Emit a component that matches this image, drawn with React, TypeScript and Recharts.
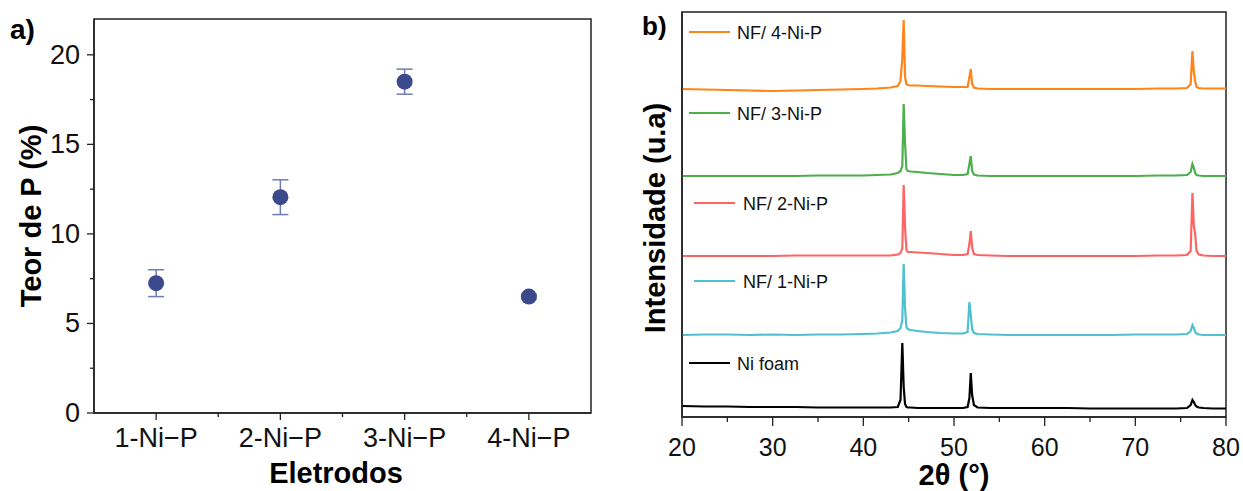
import React from 'react';
import {
  ScatterChart, Scatter, LineChart, Line, XAxis, YAxis, ErrorBar, ReferenceArea,
} from 'recharts';

const FONT = '"Liberation Sans", Arial, Helvetica, sans-serif';

// panel a) - teor de P
const categories = ['1-Ni−P', '2-Ni−P', '3-Ni−P', '4-Ni−P'];
const pContent = [7.25, 12.05, 18.5, 6.5];
const pError = [0.75, 0.97, 0.7, 0.12];
const yTicksA = [0, 2.5, 5, 7.5, 10, 12.5, 15, 17.5, 20];

// panel b) - DRX
const twoTheta = [
  20, 22.5, 25, 27.5, 30, 32.5, 35, 37.5, 40, 41.5,
  43, 43.8, 44.1, 44.3, 44.45, 44.6, 44.75, 44.9, 45.2, 46,
  47, 48.5, 50, 51, 51.5, 51.7, 51.85, 52.0, 52.2, 52.6,
  54, 56, 58, 60, 62.5, 65, 67.5, 70, 72.5, 74.5,
  75.7, 76.1, 76.3, 76.45, 76.6, 76.75, 77.0, 77.5, 78.5, 80,
];
const niFoam = [
  2, 1.5, 1.5, 1, 1, 1, 0.5, 0.5, 0.5, 0.5,
  0.5, 1, 8, 65, 21, 4, 1, 0.5, 0.5, 0,
  0, 0, 0, 0, 1, 10, 35, 13, 3, 0.5,
  0, 0, 0, 0, 0, -0.5, -0.5, -0.5, -0.5, -0.5,
  0, 3, 8, 6, 3, 1.5, 0.5, 0, -0.5, -0.5,
];
const nf1 = [
  0, 0.5, 0.5, 0, 0.5, 0, 0.5, 0.5, 1, 1.5,
  2.5, 4, 7, 15, 71, 27, 8, 6, 5, 4,
  3, 2, 1.5, 1.5, 3, 33, 20, 6, 2, 1,
  0.5, 0, 0, 0, 0, 0, 0, 0.5, 0.5, 0.5,
  1, 4, 10, 7, 3, 1.5, 0.5, 0, 0, 0,
];
const nf2 = [
  0, 0, 0, 0, 0, 0.5, 0.5, 0.5, 0.5, 0.5,
  0.5, 1.5, 3, 8, 71, 29, 6, 4, 4, 3.5,
  3, 2, 1, 1, 2, 12, 25, 8, 2, 1,
  0.5, 0, 0, 0, 0, 0, 0, 0, 0.5, 0.5,
  1, 5, 63, 30, 22, 5, 1.5, 0.5, 0, 0,
];
const nf3 = [
  0, 0, 0, 0, 0, 0, 0.5, 0.5, 0.5, 1,
  1.5, 3, 5, 10, 72, 33, 7, 5, 4.5, 4,
  3, 2, 1, 1, 2, 12, 20, 5, 1.5, 0.5,
  0, 0, 0, 0, 0, 0, 0, 0, 0.5, 0.5,
  1, 4, 12, 8, 3, 1, 0.5, 0, 0, 0,
];
const nf4 = [
  0, -0.5, -1, -1.5, -2, -1.5, -1, -0.5, 0, 0.5,
  1.5, 3, 8, 31, 69, 12, 5, 4, 3.5, 3.5,
  3, 2.5, 2, 2, 2, 12, 20, 5, 1.5, 0.5,
  0, 0, 0, 0, 0, 0, 0, 0, 0.5, 0.5,
  1, 5, 38, 17, 8, 2, 1, 0.5, 0.5, 0.5,
];
const seriesNames = ['Ni foam', 'NF/ 1-Ni-P', 'NF/ 2-Ni-P', 'NF/ 3-Ni-P', 'NF/ 4-Ni-P'];
const seriesColors = ['#000000', '#4FC0CF', '#FF6464', '#4CAF4C', '#FF8419'];
const offsets = [9, 82, 161, 241, 328];
const xTicksB = [20, 25, 30, 35, 40, 45, 50, 55, 60, 65, 70, 75, 80];

const scatterData = categories.map((c, i) => ({ x: i + 1, y: pContent[i], err: pError[i] }));
const xrdSeries = [niFoam, nf1, nf2, nf3, nf4];
const xrdData = twoTheta.map((t, i) => {
  const row: any = { t };
  xrdSeries.forEach((s, k) => { row['s' + k] = s[i] + offsets[k]; });
  return row;
});

const AXIS = '#222';

const XTickA = (props: any) => {
  const { x, y, payload } = props;
  const v = payload.value;
  const major = Number.isInteger(v);
  return (
    <g>
      <line x1={x} x2={x} y1={y} y2={y + (major ? 7 : 4)} stroke={AXIS} strokeWidth={1.3} />
      {major && (
        <text x={x} y={y + 34} textAnchor="middle" fontSize={27} fill="#111" fontFamily={FONT}>
          {categories[v - 1]}
        </text>
      )}
    </g>
  );
};

const YTickA = (props: any) => {
  const { x, y, payload } = props;
  const v = payload.value;
  const major = v % 5 === 0;
  return (
    <g>
      <line x1={x - (major ? 7 : 4)} x2={x} y1={y} y2={y} stroke={AXIS} strokeWidth={1.3} />
      {major && (
        <text x={x - 14} y={y + 9} textAnchor="end" fontSize={27} fill="#111" fontFamily={FONT}>
          {v}
        </text>
      )}
    </g>
  );
};

const XTickB = (props: any) => {
  const { x, y, payload } = props;
  const v = payload.value;
  const major = v % 10 === 0;
  return (
    <g>
      <line x1={x} x2={x} y1={y} y2={y + (major ? 9 : 5)} stroke={AXIS} strokeWidth={1.3} />
      {major && (
        <text x={x} y={y + 39} textAnchor="middle" fontSize={25} fill="#111" fontFamily={FONT}>
          {v}
        </text>
      )}
    </g>
  );
};

const Dot = (props: any) => <circle cx={props.cx} cy={props.cy} r={8} fill="#3B4A8C" />;

const legendPos = [
  { x: 689, y: 363, tx: 737 },
  { x: 694, y: 281, tx: 743 },
  { x: 694, y: 203, tx: 743 },
  { x: 689, y: 113, tx: 737 },
  { x: 689, y: 32, tx: 737 },
];

export default function App() {
  return (
    <div style={{ position: 'absolute', left: 0, top: 0, width: 1243, height: 491, background: '#fff', fontFamily: FONT }}>
      <div style={{ position: 'absolute', left: 0, top: 0 }}>
        <ScatterChart width={620} height={491} margin={{ top: 19, right: 29, bottom: 28, left: 0 }}>
          <XAxis
            dataKey="x" type="number" domain={[0.5, 4.5]} ticks={[1, 1.5, 2, 2.5, 3, 3.5, 4]}
            interval={0} height={50} tickSize={0} tickMargin={0} tickLine={false}
            axisLine={{ stroke: AXIS, strokeWidth: 1.5 }} tick={<XTickA />}
          />
          <YAxis
            dataKey="y" type="number" domain={[0, 22]} ticks={yTicksA} interval={0}
            width={94} tickSize={0} tickMargin={0} tickLine={false}
            axisLine={{ stroke: AXIS, strokeWidth: 1.5 }} tick={<YTickA />}
          />
          <ReferenceArea x1={0.5} x2={4.5} y1={0} y2={22} fill="none" stroke={AXIS} strokeWidth={1.5} />
          <Scatter data={scatterData} dataKey="y" shape={<Dot />} isAnimationActive={false}>
            <ErrorBar dataKey="err" direction="y" width={8} stroke="#6E7BB5" strokeWidth={1.5} />
          </Scatter>
        </ScatterChart>
      </div>

      <div style={{ position: 'absolute', left: 620, top: 0 }}>
        <LineChart width={623} height={491} data={xrdData} margin={{ top: 12, right: 17, bottom: 24, left: 0 }}>
          <XAxis
            dataKey="t" type="number" domain={[20, 80]} ticks={xTicksB} interval={0}
            height={50} tickSize={0} tickMargin={0} tickLine={false}
            axisLine={{ stroke: AXIS, strokeWidth: 1.5 }} tick={<XTickB />}
          />
          <YAxis
            type="number" domain={[0, 405]} width={62} tick={false} tickLine={false}
            axisLine={{ stroke: AXIS, strokeWidth: 1.5 }}
          />
          <ReferenceArea x1={20} x2={80} y1={0} y2={405} fill="none" stroke={AXIS} strokeWidth={1.5} />
          {seriesNames.map((n, k) => (
            <Line
              key={n} dataKey={'s' + k} name={n} type="linear" dot={false}
              stroke={seriesColors[k]} strokeWidth={2.2} isAnimationActive={false}
            />
          ))}
        </LineChart>
      </div>

      <svg width={1243} height={491} style={{ position: 'absolute', left: 0, top: 0, pointerEvents: 'none' }} fontFamily={FONT}>
        <text x={10} y={39} fontSize={28} fontWeight="bold" fill="#000">a)</text>
        <text x={642} y={35} fontSize={26} fontWeight="bold" fill="#000">b)</text>
        <text transform="translate(41,216) rotate(-90)" textAnchor="middle" fontSize={29} fontWeight="bold" fill="#000">
          Teor de P (%)
        </text>
        <text x={336} y={483} textAnchor="middle" fontSize={29} fontWeight="bold" fill="#000">Eletrodos</text>
        <text transform="translate(665,218) rotate(-90)" textAnchor="middle" fontSize={29} fontWeight="bold" fill="#000">
          Intensidade (u.a)
        </text>
        <text x={954} y={485} textAnchor="middle" fontSize={29} fontWeight="bold" fill="#000">2θ (°)</text>
        {seriesNames.map((n, k) => (
          <g key={n}>
            <line x1={legendPos[k].x} x2={legendPos[k].x + 41} y1={legendPos[k].y} y2={legendPos[k].y}
              stroke={seriesColors[k]} strokeWidth={2} />
            <text x={legendPos[k].tx} y={legendPos[k].y + 6.5} fontSize={18} fill="#111">{n}</text>
          </g>
        ))}
      </svg>
    </div>
  );
}
